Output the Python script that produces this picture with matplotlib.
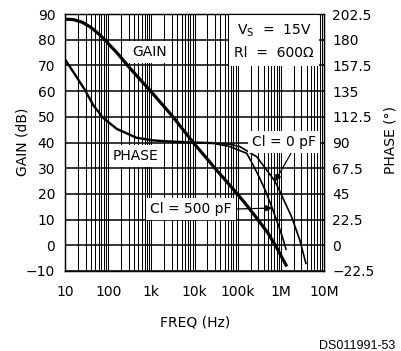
import matplotlib
matplotlib.use("Agg")
import matplotlib.pyplot as plt
from matplotlib.ticker import LogLocator, FixedLocator, NullFormatter
import numpy as np

# gain curve (log10 of frequency, dB)
gain_logf = [1.0, 1.2, 1.4, 1.6, 1.8, 2.0, 2.2, 2.5, 3.0, 3.5, 3.97, 4.5, 4.9,
             5.2, 5.5, 5.7, 5.9, 6.12]
gain_db = [88, 87.8, 86.8, 84.8, 82, 78.5, 75, 69, 59.7, 50, 40, 29.5, 21.8,
           15.8, 9.3, 4.8, -0.8, -7.7]

# phase, shared part at low frequency (degrees)
phase_logf = [1.0, 1.23, 1.46, 1.656, 1.887, 2.2, 2.66, 3.05, 3.43, 3.97, 4.4]
phase_deg = [162.7, 149.6, 136.1, 122.6, 111.4, 101.9, 94.1, 91.8, 90.9, 90,
             89.5]

# phase tails
cl0_logf = [4.4, 4.8, 5.05, 5.44, 5.75, 5.865, 5.98, 6.25, 6.44, 6.58]
cl0_deg = [89.5, 88.5, 86.4, 77.6, 61.9, 56, 47, 24.8, 4.5, -15.8]
cl500_logf = [4.4, 4.82, 5.21, 5.35, 5.5, 5.65, 5.8, 5.95, 6.05, 6.12]
cl500_deg = [89.5, 86.4, 80.5, 70.9, 59.6, 47.3, 32.6, 16.9, 5.6, -3.4]

freq_ticks = [10, 100, 1e3, 1e4, 1e5, 1e6, 1e7]
freq_labels = ['10', '100', '1k', '10k', '100k', '1M', '10M']
gain_ticks = list(range(-10, 91, 10))
phase_ticks = [-22.5, 0, 22.5, 45, 67.5, 90, 112.5, 135, 157.5, 180, 202.5]
phase_labels = ['\u221222.5', '0', '22.5', '45', '67.5', '90', '112.5', '135',
                '157.5', '180', '202.5']


def main():
    plt.rcParams['font.family'] = ['DejaVu Sans']
    fig = plt.figure(figsize=(4.01, 3.51), dpi=100)
    ax = fig.add_axes([65 / 401, 80 / 351, 259 / 401, 257 / 351])
    ax2 = ax.twinx()

    ax.set_xscale('log')
    ax.set_xlim(10, 1e7)
    ax.set_ylim(-10, 90)
    ax2.set_ylim(-22.5, 202.5)

    ax.xaxis.set_major_locator(FixedLocator(freq_ticks))
    ax.set_xticklabels(freq_labels)
    ax.xaxis.set_minor_locator(LogLocator(base=10, subs=np.arange(2, 10),
                                          numticks=100))
    ax.xaxis.set_minor_formatter(NullFormatter())
    ax.set_yticks(gain_ticks)
    ax.set_yticklabels([str(t).replace('-', '\u2212') for t in gain_ticks])
    ax.tick_params(which='both', length=0, labelsize=10)
    ax.tick_params(axis='y', pad=7)
    ax.tick_params(axis='x', pad=10)
    ax2.set_yticks(phase_ticks)
    ax2.set_yticklabels(phase_labels)
    ax2.tick_params(length=0, labelsize=10, pad=6)

    # grid
    ax.grid(True, which='major', axis='y', color='black', linewidth=1.1)
    for f in list(ax.xaxis.get_majorticklocs()) + list(ax.xaxis.get_minorticklocs()):
        if 10 < f < 1e7:
            ax.axvline(f, color='black', lw=0.75, zorder=1.5)
    for s in ax.spines.values():
        s.set_linewidth(1.0)

    ax.plot(10 ** np.array(gain_logf), gain_db, color='black', lw=2.3,
            zorder=5)
    ax2.plot(10 ** np.array(phase_logf), phase_deg, color='black', lw=1.7,
             zorder=5)
    ax2.plot(10 ** np.array(cl0_logf), cl0_deg, color='black', lw=1.2, zorder=5)
    ax2.plot(10 ** np.array(cl500_logf), cl500_deg, color='black', lw=1.2,
             zorder=5)

    box = dict(facecolor='white', edgecolor='none', pad=3)
    ax.text(10 ** 2.97, 75.2, 'GAIN', ha='center', va='center', fontsize=10,
            bbox=box, zorder=6)
    ax.text(10 ** 2.64, 34.7, 'PHASE', ha='center', va='center', fontsize=10,
            bbox=box, zorder=6)
    ax.text(10 ** 5.84, 86.8, '$\\mathregular{V_S}$  =  15V\nRl  =  600\u03a9',
            ha='center', va='top', fontsize=10, linespacing=1.7,
            bbox=dict(facecolor='white', edgecolor='none', pad=4), zorder=6)

    ax2.annotate('Cl = 0 pF', xy=(10 ** cl0_logf[5], cl0_deg[5]),
                 xytext=(10 ** 6.07, 90.5), ha='center', va='center',
                 fontsize=10, bbox=box, zorder=6,
                 arrowprops=dict(arrowstyle='-|>', color='black', lw=0.9,
                                 relpos=(0.65, 0), shrinkA=0, shrinkB=0,
                                 mutation_scale=9))
    ax2.annotate('Cl = 500 pF', xy=(10 ** cl500_logf[6], cl500_deg[6]),
                 xytext=(10 ** 3.92, 31.7), ha='center', va='center',
                 fontsize=10, bbox=box, zorder=6,
                 arrowprops=dict(arrowstyle='-|>', color='black', lw=0.9,
                                 relpos=(1, 0.5), shrinkA=0, shrinkB=0,
                                 mutation_scale=9))

    fig.text(22 / 401, 1 - 142 / 351, 'GAIN (dB)', rotation=90, ha='center',
             va='center', fontsize=10)
    fig.text(391 / 401, 1 - 140 / 351, 'PHASE (\u00b0)', rotation=90,
             ha='center', va='center', fontsize=10)
    fig.text(195 / 401, 1 - 322 / 351, 'FREQ (Hz)', ha='center', va='center',
             fontsize=10)
    fig.text(395 / 401, 1 - 346 / 351, 'DS011991-53', ha='right',
             va='center', fontsize=9, family='Liberation Sans')

    fig.savefig('out.png', dpi=100)


if __name__ == '__main__':
    main()
